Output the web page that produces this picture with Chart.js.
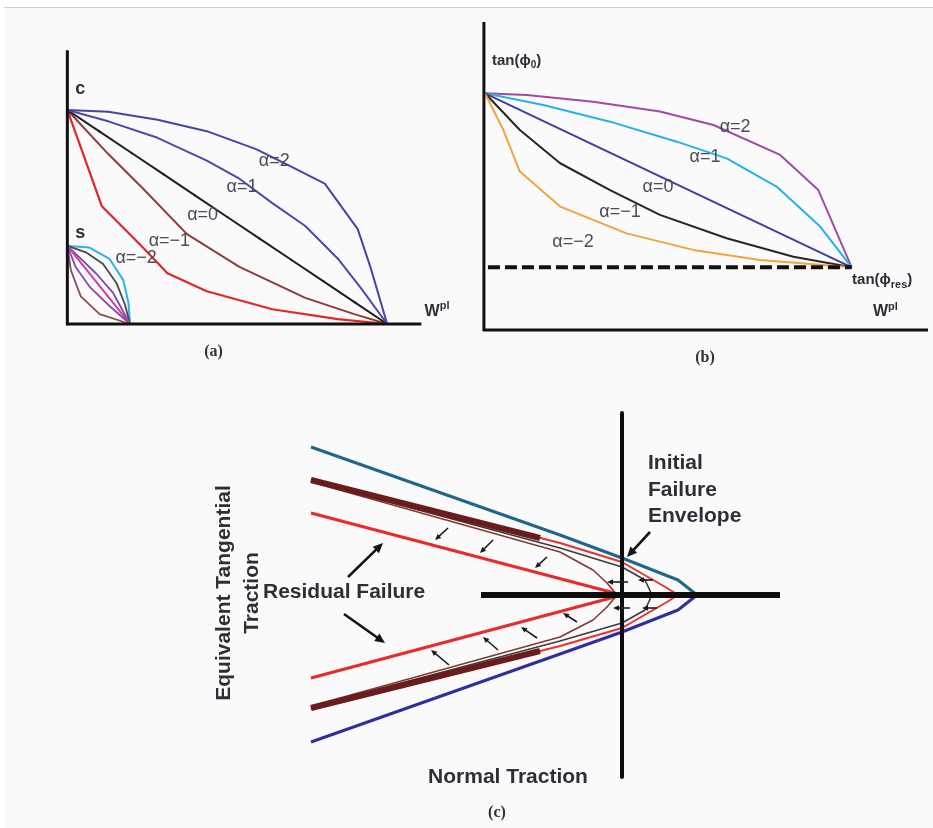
<!DOCTYPE html>
<html>
<head>
<meta charset="utf-8">
<script src="https://cdn.jsdelivr.net/npm/chart.js@4.4.1/dist/chart.umd.min.js"></script>
<style>
  html, body { margin: 0; padding: 0; background: #ffffff; }
  #sheet { position: relative; width: 933px; height: 828px; overflow: hidden; }
  #paper { position: absolute; left: 4px; top: 7px; right: 0; bottom: 0; background: #fafafa; border-top: 1px solid #cfcfcf; }
  canvas { position: absolute; }
  #panelA { left: 30px; top: 20px; }
  #panelB { left: 460px; top: 10px; }
  #panelC { left: 190px; top: 400px; }
</style>
</head>
<body>
<div id="sheet">
  <div id="paper"></div>
  <canvas id="panelA" width="420" height="350"></canvas>
  <canvas id="panelB" width="473" height="370"></canvas>
  <canvas id="panelC" width="620" height="428"></canvas>
</div>
<script>
// ---- panel (a): cohesion softening vs plastic work ----
const aAlpha2X = [0, 0.128, 0.282, 0.436, 0.590, 0.703, 0.805, 0.908, 0.949, 1];
const aAlpha2Y = [1, 0.992, 0.954, 0.901, 0.817, 0.733, 0.656, 0.443, 0.260, 0];
const aAlpha1X = [0, 0.128, 0.282, 0.436, 0.538, 0.641, 0.744, 0.846, 0.918, 1];
const aAlpha1Y = [1, 0.947, 0.870, 0.763, 0.679, 0.565, 0.458, 0.305, 0.168, 0];
const aAlpha0X = [0, 0.1, 0.2, 0.3, 0.4, 0.5, 0.6, 0.7, 0.8, 0.9, 1];
const aAlpha0Y = [1, 0.9, 0.8, 0.7, 0.6, 0.5, 0.4, 0.3, 0.2, 0.1, 0];
const aAlphaM1X = [0, 0.128, 0.231, 0.374, 0.538, 0.744, 0.897, 1];
const aAlphaM1Y = [1, 0.794, 0.641, 0.420, 0.267, 0.122, 0.046, 0];
const aAlphaM2X = [0, 0.108, 0.231, 0.313, 0.436, 0.641, 0.846, 1];
const aAlphaM2Y = [1, 0.550, 0.366, 0.237, 0.153, 0.069, 0.023, 0];

// small family starting from s
const sCyanX = [0, 0.069, 0.132, 0.175, 0.191, 0.196];
const sCyanY = [0.365, 0.357, 0.304, 0.205, 0.099, 0];
const sGrayX = [0, 0.058, 0.111, 0.154, 0.180, 0.196];
const sGrayY = [0.365, 0.335, 0.281, 0.190, 0.091, 0];
const sPurple1X = [0, 0.037, 0.090, 0.143, 0.196];
const sPurple1Y = [0.365, 0.312, 0.236, 0.145, 0];
const sMagentaX = [0, 0.196];
const sMagentaY = [0.365, 0];
const sPurple2X = [0, 0.026, 0.069, 0.132, 0.196];
const sPurple2Y = [0.365, 0.266, 0.175, 0.084, 0];
const sBrownX = [0, 0.011, 0.042, 0.101, 0.196];
const sBrownY = [0.365, 0.251, 0.129, 0.046, 0];

const alphaLabels = ["α=2", "α=1", "α=0", "α=−1", "α=−2"];
const aLabelX = [0.647, 0.546, 0.423, 0.319, 0.215];
const aLabelY = [0.763, 0.639, 0.511, 0.388, 0.306];

// ---- panel (b): friction softening ----
const bAlpha2X = [0, 0.114, 0.295, 0.477, 0.623, 0.805, 0.909, 1];
const bAlpha2Y = [1, 0.990, 0.952, 0.895, 0.818, 0.646, 0.444, 0];
const bAlpha1X = [0, 0.159, 0.341, 0.523, 0.659, 0.795, 0.914, 1];
const bAlpha1Y = [1, 0.933, 0.837, 0.722, 0.626, 0.464, 0.234, 0];
const bAlpha0X = [0, 1];
const bAlpha0Y = [1, 0];
const bAlphaM1X = [0, 0.095, 0.205, 0.341, 0.477, 0.659, 0.841, 1];
const bAlphaM1Y = [1, 0.789, 0.598, 0.444, 0.301, 0.167, 0.061, 0];
const bAlphaM2X = [0, 0.05, 0.095, 0.205, 0.386, 0.568, 0.75, 1];
const bAlphaM2Y = [1, 0.789, 0.550, 0.349, 0.195, 0.100, 0.042, 0];
const bResidualX = [0.008, 1];
const bResidualY = [0, 0];

const bLabelX = [0.682, 0.600, 0.472, 0.368, 0.240];
const bLabelY = [0.806, 0.634, 0.461, 0.318, 0.145];

// ---- panel (c): failure envelopes in traction space ----
const cInitialUpX = [-3.11, -0.62, 0, 0.56, 0.75];
const cInitialUpY = [1.48, 0.60, 0.37, 0.15, 0];
const cInitialLoX = [-3.11, -0.62, 0, 0.56, 0.75];
const cInitialLoY = [-1.47, -0.59, -0.37, -0.15, 0];
const cRedEnvX = [-3.11, -0.62, 0, 0.45, 0.56, 0.45, 0, -0.62, -3.11];
const cRedEnvY = [1.16, 0.52, 0.33, 0.07, 0, -0.07, -0.33, -0.51, -1.14];
const cGrayEnvX = [-3.11, -0.62, 0, 0.23, 0.30, 0.23, 0, -0.62, -3.11];
const cGrayEnvY = [1.14, 0.47, 0.28, 0.15, 0, -0.15, -0.28, -0.46, -1.12];
const cBrownEnvX = [-3.11, -0.62, -0.29, -0.15, -0.05, -0.15, -0.29, -0.62, -3.11];
const cBrownEnvY = [1.13, 0.43, 0.25, 0.12, 0, -0.12, -0.25, -0.42, -1.11];
const cBandUpX = [-3.11, -0.82];
const cBandUpY = [1.15, 0.57];
const cBandLoX = [-3.11, -0.82];
const cBandLoY = [-1.13, -0.56];
const cResidualX = [-3.11, 0, -3.11];
const cResidualY = [0.82, 0, -0.83];
const cAxisNX = [-1.41, 1.58];
const cAxisNY = [0, 0];
const cAxisTX = [0, 0];
const cAxisTY = [1.82, -1.82];

// arrows as [x1, y1, x2, y2]; head at the second point
const cSmallArrows = [
  [-1.74, 0.67, -1.87, 0.55], [-1.29, 0.55, -1.42, 0.42], [-0.75, 0.38, -0.87, 0.27],
  [-1.73, -0.70, -1.91, -0.55], [-1.24, -0.55, -1.39, -0.42], [-0.85, -0.43, -1.01, -0.32],
  [-0.45, -0.27, -0.59, -0.18],
  [0.06, 0.13, -0.15, 0.13], [0.31, 0.15, 0.16, 0.15],
  [0.08, -0.13, -0.09, -0.13], [0.35, -0.13, 0.20, -0.13]
];
const cBigArrows = [
  [-2.74, 0.18, -2.39, 0.52], [-2.78, -0.19, -2.37, -0.48], [0.28, 0.63, 0.05, 0.38]
];

const LABEL_FONT = "18px 'Liberation Sans', Arial, sans-serif";
const LABEL_COLOR = "#4b4b5c";
const BOLD_FONT = "bold 21px 'Liberation Sans', Arial, sans-serif";
const DARK = "#2e2e38";
const CAPTION_FONT = "bold 16px 'Liberation Serif', 'Times New Roman', serif";

const pts = (xs, ys) => xs.map((x, i) => ({ x: x, y: ys[i] }));

function line(xs, ys, color, width, extra) {
  return Object.assign({
    data: pts(xs, ys),
    showLine: true,
    borderColor: color,
    backgroundColor: color,
    borderWidth: width,
    pointRadius: 0,
    tension: 0,
    borderJoinStyle: "round",
    borderCapStyle: "butt",
  }, extra || {});
}

// draws text runs (with sub/superscripts) at data coordinates
const figureText = {
  id: "figureText",
  afterDatasetsDraw(chart, args, opts) {
    const ctx = chart.ctx;
    const sx = chart.scales.x, sy = chart.scales.y;
    (opts.items || []).forEach((item) => {
      ctx.save();
      ctx.translate(sx.getPixelForValue(item.x), sy.getPixelForValue(item.y));
      if (item.rotate) ctx.rotate(item.rotate);
      ctx.fillStyle = item.color || DARK;
      ctx.textBaseline = "middle";
      let total = 0;
      item.parts.forEach((p) => { ctx.font = p.font; total += ctx.measureText(p.text).width; });
      let cx = item.align === "center" ? -total / 2 : 0;
      item.parts.forEach((p) => {
        ctx.font = p.font;
        ctx.fillText(p.text, cx, p.dy || 0);
        cx += ctx.measureText(p.text).width;
      });
      ctx.restore();
    });
  },
};

const figureArrows = {
  id: "figureArrows",
  afterDatasetsDraw(chart, args, opts) {
    const ctx = chart.ctx;
    const sx = chart.scales.x, sy = chart.scales.y;
    (opts.sets || []).forEach((set) => {
      set.items.forEach((a) => {
        const x1 = sx.getPixelForValue(a[0]), y1 = sy.getPixelForValue(a[1]);
        const x2 = sx.getPixelForValue(a[2]), y2 = sy.getPixelForValue(a[3]);
        const ang = Math.atan2(y2 - y1, x2 - x1);
        ctx.save();
        ctx.strokeStyle = set.color;
        ctx.fillStyle = set.color;
        ctx.lineWidth = set.width;
        ctx.beginPath();
        ctx.moveTo(x1, y1);
        ctx.lineTo(x2 - Math.cos(ang) * set.head * 0.7, y2 - Math.sin(ang) * set.head * 0.7);
        ctx.stroke();
        ctx.translate(x2, y2);
        ctx.rotate(ang);
        ctx.beginPath();
        ctx.moveTo(0, 0);
        ctx.lineTo(-set.head, set.head * 0.45);
        ctx.lineTo(-set.head, -set.head * 0.45);
        ctx.closePath();
        ctx.fill();
        ctx.restore();
      });
    });
  },
};

function baseOptions(xmin, xmax, ymin, ymax, textItems, arrowSets) {
  return {
    responsive: false,
    animation: false,
    events: [],
    layout: { padding: 0 },
    scales: {
      x: { type: "linear", display: false, min: xmin, max: xmax },
      y: { type: "linear", display: false, min: ymin, max: ymax },
    },
    plugins: {
      legend: { display: false },
      tooltip: { enabled: false },
      figureText: { items: textItems },
      figureArrows: { sets: arrowSets || [] },
    },
  };
}

function labelItems(xs, ys) {
  return alphaLabels.map((t, i) => ({
    x: xs[i], y: ys[i], align: "center", color: LABEL_COLOR,
    parts: [{ text: t, font: LABEL_FONT }],
  }));
}

function initPanelA() {
  const text = labelItems(aLabelX, aLabelY).concat([
    { x: 0.04, y: 1.096, align: "center", parts: [{ text: "c", font: "bold 18px 'Liberation Sans', Arial" }] },
    { x: 0.04, y: 0.425, align: "center", parts: [{ text: "s", font: "bold 18px 'Liberation Sans', Arial" }] },
    { x: 1.117, y: 0.059, parts: [
      { text: "W", font: "bold 16px 'Liberation Sans', Arial" },
      { text: "pl", font: "bold 11px 'Liberation Sans', Arial", dy: -5 } ] },
    { x: 0.457, y: -0.128, align: "center", color: "#333", parts: [{ text: "(a)", font: CAPTION_FONT }] },
  ]);
  return new Chart(document.getElementById("panelA"), {
    type: "scatter",
    data: {
      datasets: [
        line([0, 1.107], [0, 0], "#111", 3),
        line([0, 0], [-0.007, 1.279], "#111", 3),
        line(aAlpha2X, aAlpha2Y, "#4545a5", 2),
        line(aAlpha1X, aAlpha1Y, "#4a4aaa", 2),
        // small black markers sit on the linear curve
        line(aAlpha0X, aAlpha0Y, "#1e1e1e", 2, { pointRadius: 1.1, pointBorderWidth: 0 }),
        line(aAlphaM1X, aAlphaM1Y, "#8e3b3b", 2),
        line(aAlphaM2X, aAlphaM2Y, "#e52424", 2.2),
        line(sBrownX, sBrownY, "#85504a", 1.8),
        line(sPurple2X, sPurple2Y, "#8a4aa8", 1.8),
        line(sMagentaX, sMagentaY, "#d23aa8", 2),
        line(sPurple1X, sPurple1Y, "#7a4aa6", 1.8),
        line(sGrayX, sGrayY, "#4a4a4a", 1.8),
        line(sCyanX, sCyanY, "#2ab4e4", 2),
      ],
    },
    options: baseOptions(-0.1043, 1.184, -0.1963, 1.4018, text),
    plugins: [figureText, figureArrows],
  });
}

function initPanelB() {
  const text = labelItems(bLabelX, bLabelY).concat([
    { x: 0.019, y: 1.186, parts: [
      { text: "tan(ϕ", font: "bold 15px 'Liberation Sans', Arial" },
      { text: "0", font: "bold 10px 'Liberation Sans', Arial", dy: 4 },
      { text: ")", font: "bold 15px 'Liberation Sans', Arial" } ] },
    { x: 1.001, y: -0.073, parts: [
      { text: "tan(ϕ", font: "bold 15px 'Liberation Sans', Arial" },
      { text: "res", font: "bold 11px 'Liberation Sans', Arial", dy: 5 },
      { text: ")", font: "bold 15px 'Liberation Sans', Arial" } ] },
    { x: 1.058, y: -0.257, parts: [
      { text: "W", font: "bold 16px 'Liberation Sans', Arial" },
      { text: "pl", font: "bold 11px 'Liberation Sans', Arial", dy: -5 } ] },
    { x: 0.600, y: -0.521, align: "center", color: "#333", parts: [{ text: "(b)", font: CAPTION_FONT }] },
  ]);
  return new Chart(document.getElementById("panelB"), {
    type: "scatter",
    data: {
      datasets: [
        line([-0.003, 1.208], [-0.360, -0.360], "#111", 3),
        line([-0.003, -0.003], [-0.368, 1.410], "#111", 3),
        line(bResidualX, bResidualY, "#111", 4, { borderDash: [12, 5] }),
        line(bAlphaM2X, bAlphaM2Y, "#f0a43c", 2),
        line(bAlphaM1X, bAlphaM1Y, "#262626", 2),
        line(bAlpha0X, bAlpha0Y, "#3f3f9f", 2),
        line(bAlpha1X, bAlpha1Y, "#24b2e6", 2),
        line(bAlpha2X, bAlpha2Y, "#a04aa4", 2),
      ],
    },
    options: baseOptions(-0.0682, 1.2217, -0.6477, 1.4787, text),
    plugins: [figureText, figureArrows],
  });
}

function initPanelC() {
  const text = [
    { x: 0.26, y: 1.32, parts: [{ text: "Initial", font: BOLD_FONT }] },
    { x: 0.26, y: 1.05, parts: [{ text: "Failure", font: BOLD_FONT }] },
    { x: 0.26, y: 0.79, parts: [{ text: "Envelope", font: BOLD_FONT }] },
    { x: -3.59, y: 0.03, parts: [{ text: "Residual Failure", font: BOLD_FONT }] },
    { x: -1.14, y: -1.82, align: "center", parts: [{ text: "Normal Traction", font: BOLD_FONT }] },
    { x: -3.98, y: 0.02, align: "center", rotate: -Math.PI / 2, parts: [{ text: "Equivalent Tangential", font: BOLD_FONT }] },
    { x: -3.70, y: 0.02, align: "center", rotate: -Math.PI / 2, parts: [{ text: "Traction", font: BOLD_FONT }] },
    { x: -1.25, y: -2.18, align: "center", color: "#333", parts: [{ text: "(c)", font: CAPTION_FONT }] },
  ];
  const arrows = [
    { items: cSmallArrows, color: "#1c1c1c", width: 1.6, head: 6 },
    { items: cBigArrows, color: "#151515", width: 2.6, head: 10 },
  ];
  return new Chart(document.getElementById("panelC"), {
    type: "scatter",
    data: {
      datasets: [
        line(cAxisNX, cAxisNY, "#0d0d0d", 6),
        line(cAxisTX, cAxisTY, "#0d0d0d", 4),
        line(cBandUpX, cBandUpY, "#6a1b1b", 6),
        line(cBandLoX, cBandLoY, "#6a1b1b", 6),
        line(cBandUpX, cBandUpY, "#1a0606", 2, { borderDash: [2, 2] }),
        line(cBandLoX, cBandLoY, "#1a0606", 2, { borderDash: [2, 2] }),
        line(cBrownEnvX, cBrownEnvY, "#7d3a36", 1.6),
        line(cGrayEnvX, cGrayEnvY, "#3a3a3a", 1.6),
        line(cRedEnvX, cRedEnvY, "#e8342e", 2),
        line(cResidualX, cResidualY, "#ea2a2a", 3),
        line(cInitialUpX, cInitialUpY, "#1f6688", 3),
        line(cInitialLoX, cInitialLoY, "#2e2ea0", 3),
      ],
    },
    options: baseOptions(-4.32, 1.88, -2.33, 1.95, text, arrows),
    plugins: [figureText, figureArrows],
  });
}

function initFigure() {
  initPanelA();
  initPanelB();
  initPanelC();
}

document.addEventListener("DOMContentLoaded", initFigure);
</script>
</body>
</html>
